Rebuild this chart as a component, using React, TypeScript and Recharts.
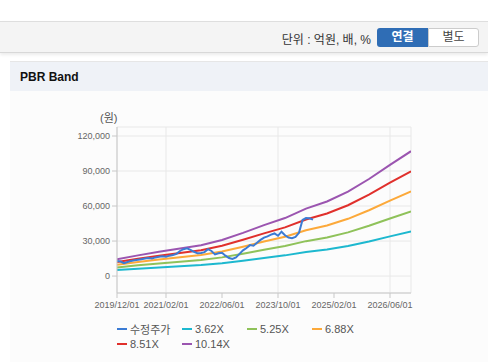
import { LineChart, Line, XAxis, YAxis, CartesianGrid } from "recharts";

// months counted from 2019/12/01
const bandMonths = [0, 6, 12, 18, 24, 30, 36, 42, 48, 54, 60, 66, 72, 78, 84];
const band362 = [5100, 6340, 7420, 8430, 9450, 11040, 13210, 15570, 17740, 20630, 22810, 25810, 29680, 34030, 38190];
const band525 = [7400, 9190, 10760, 12230, 13700, 16010, 19160, 22575, 25725, 29925, 33075, 37430, 43050, 49350, 55390];
const band688 = [9700, 12040, 14100, 16030, 17960, 20980, 25110, 29580, 33710, 39220, 43340, 49050, 56420, 64670, 72580];
const band851 = [12000, 14890, 17450, 19830, 22210, 25960, 31060, 36590, 41700, 48510, 53610, 60680, 69780, 79990, 89780];
const band1014 = [14300, 17745, 20790, 23630, 26470, 30930, 37010, 43600, 49690, 57800, 63880, 72300, 83150, 95320, 106980];

const priceMonths = [
  0, 1, 2, 3, 4, 5, 6, 7, 8, 9, 10, 11, 12, 13, 14, 15, 16, 17, 18, 19, 20, 21, 22, 23, 24, 25, 26, 27, 28,
  29, 30, 31, 32, 33, 34, 35, 36, 37, 38, 39, 40, 41, 42, 43, 44, 45, 46, 47, 48, 49, 50, 51, 52, 53, 54, 55, 56,
];
const price = [
  13000, 12500, 11000, 12000, 13000, 13500, 14000, 14500, 15000, 15500, 15000, 16000, 16500, 17000, 16500,
  17500, 18000, 19000, 21500, 23000, 23800, 22500, 20800, 19500, 19800, 20500, 23000, 21500, 18500, 19500,
  20000, 17500, 15500, 14600, 16000, 19000, 22000, 24000, 26500, 26000, 28500, 31000, 33000, 34000, 35500,
  36500, 34500, 38000, 35000, 33000, 32500, 33500, 37000, 48000, 49700, 49500, 48300,
];

const tickMonths = [0, 14, 30, 46, 62, 78];
const tickLabels = ["2019/12/01", "2021/02/01", "2022/06/01", "2023/10/01", "2025/02/01", "2026/06/01"];
const yTicks = [0, 30000, 60000, 90000, 120000];

const series = [
  { key: "price", name: "수정주가", color: "#3b7bd4" },
  { key: "b362", name: "3.62X", color: "#1db8cf" },
  { key: "b525", name: "5.25X", color: "#8fc25a" },
  { key: "b688", name: "6.88X", color: "#fca93a" },
  { key: "b851", name: "8.51X", color: "#e0302c" },
  { key: "b1014", name: "10.14X", color: "#9b55b0" },
];

const bandData = bandMonths.map((m, i) => ({
  m,
  b362: band362[i],
  b525: band525[i],
  b688: band688[i],
  b851: band851[i],
  b1014: band1014[i],
}));
const priceData = priceMonths.map((m, i) => ({ m, price: price[i] }));

const font = '"Liberation Sans", Arial, "Noto Sans CJK KR", sans-serif';

export default function App() {
  return (
    <div
      style={{
        position: "absolute",
        left: 0,
        top: 0,
        width: 488,
        height: 362,
        overflow: "hidden",
        background: "#fff",
        fontFamily: font,
      }}
    >
      {/* toolbar */}
      <div
        style={{
          position: "absolute",
          left: 0,
          top: 21,
          width: 488,
          height: 30,
          background: "#f4f4f4",
          borderTop: "1px solid #dedede",
          borderBottom: "1px solid #d8d8d8",
          boxShadow: "0 2px 3px rgba(0,0,0,0.08)",
        }}
      >
        <div
          style={{
            position: "absolute",
            right: 117,
            top: 8,
            fontSize: 12,
            color: "#333",
          }}
        >
          단위 : 억원, 배, %
        </div>
        <div
          style={{
            position: "absolute",
            left: 377,
            top: 6,
            width: 51,
            height: 19,
            background: "#2f6db5",
            color: "#fff",
            fontWeight: "bold",
            fontSize: 12,
            textAlign: "center",
            lineHeight: "19px",
            borderRadius: "3px 0 0 3px",
          }}
        >
          연결
        </div>
        <div
          style={{
            position: "absolute",
            left: 428,
            top: 6,
            width: 49,
            height: 17,
            background: "#fff",
            border: "1px solid #ccc",
            color: "#444",
            fontSize: 12,
            textAlign: "center",
            lineHeight: "17px",
            borderRadius: "0 3px 3px 0",
          }}
        >
          별도
        </div>
      </div>

      {/* section */}
      <div
        style={{
          position: "absolute",
          left: 10,
          top: 61,
          width: 478,
          height: 300,
          background: "#fcfcfc",
          borderTop: "1px solid #e6e6e6",
          borderBottom: "1px solid #e4e4e4",
        }}
      />
      <div
        style={{
          position: "absolute",
          left: 10,
          top: 62,
          width: 478,
          height: 29,
          background: "#eff2f7",
        }}
      >
        <div
          style={{
            position: "absolute",
            left: 10,
            top: 8,
            fontSize: 12,
            fontWeight: "bold",
            color: "#111",
          }}
        >
          PBR Band
        </div>
      </div>

      <div
        style={{
          position: "absolute",
          left: 100,
          top: 109,
          fontSize: 11,
          color: "#555",
        }}
      >
        (원)
      </div>

      <div style={{ position: "absolute", left: 0, top: 0 }}>
        <LineChart
          width={488}
          height={362}
          margin={{ top: 127, right: 77, left: 57, bottom: 39 }}
        >
          <CartesianGrid stroke="#e8e8e8" strokeWidth={1} />
          <XAxis
            dataKey="m"
            type="number"
            domain={[0, 84]}
            ticks={tickMonths}
            tickFormatter={(v) => tickLabels[tickMonths.indexOf(v)] ?? ""}
            tick={{ fontSize: 9, fill: "#666", fontFamily: font }}
            tickSize={5}
            tickMargin={4}
            stroke="#c8c8c8"
            height={30}
            allowDataOverflow
          />
          <XAxis
            xAxisId="top"
            dataKey="m"
            type="number"
            orientation="top"
            domain={[0, 84]}
            tick={false}
            tickLine={false}
            stroke="#d4d4d4"
            height={0}
          />
          <YAxis
            type="number"
            domain={[-14500, 127700]}
            ticks={yTicks}
            tickFormatter={(v) => v.toLocaleString("en-US")}
            tick={{ fontSize: 9, fill: "#666", fontFamily: font }}
            tickSize={5}
            tickMargin={2}
            stroke="#c8c8c8"
            width={60}
            allowDataOverflow
          />
          <YAxis
            yAxisId="right"
            type="number"
            orientation="right"
            domain={[-14500, 127700]}
            tick={false}
            tickLine={false}
            stroke="#c8c8c8"
            width={0}
          />
          {series.slice(1).map((s) => (
            <Line
              key={s.key}
              data={bandData}
              dataKey={s.key}
              name={s.name}
              stroke={s.color}
              strokeWidth={2}
              dot={false}
              type="linear"
              isAnimationActive={false}
            />
          ))}
          <Line
            data={priceData}
            dataKey="price"
            name="수정주가"
            stroke={series[0].color}
            strokeWidth={2}
            dot={false}
            type="linear"
            isAnimationActive={false}
          />
        </LineChart>
      </div>

      {/* legend */}
      <div
        style={{
          position: "absolute",
          left: 117,
          top: 321,
          width: 260,
          display: "flex",
          flexWrap: "wrap",
        }}
      >
        {series.map((s) => (
          <div
            key={s.key}
            style={{
              width: 65,
              height: 15,
              display: "flex",
              alignItems: "center",
              fontSize: 11,
              color: "#555",
              whiteSpace: "nowrap",
            }}
          >
            <span
              style={{
                display: "inline-block",
                width: 10,
                height: 2,
                background: s.color,
                marginRight: 3,
              }}
            />
            {s.name}
          </div>
        ))}
      </div>
    </div>
  );
}
